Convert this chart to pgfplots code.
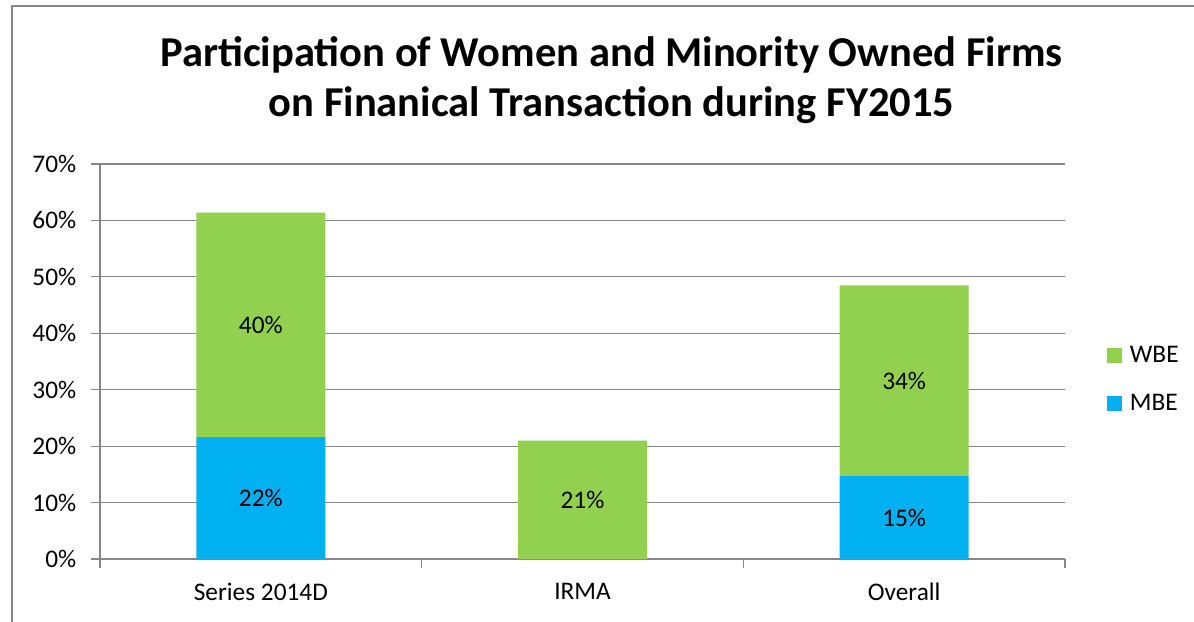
\documentclass[border=0pt]{standalone}
\usepackage{pgfplots}
\pgfplotsset{compat=1.18}
\usepackage{fontspec}
\setmainfont{Carlito}
\definecolor{wbe}{HTML}{92D050}
\definecolor{mbe}{HTML}{00B0F0}
\definecolor{gridc}{HTML}{878787}
\pgfplotstableread{
x mbe wbe
0 21.6 39.8
1 0 21.0
2 14.7 33.8
}\datatable
\pgfplotstableread{
x y lab
0 10.8 22
0 41.5 40
1 10.5 21
2 7.35 15
2 31.6 34
}\labtable
\begin{document}
\begin{tikzpicture}
\path[use as bounding box] (0,0) rectangle (895.5pt,465.75pt);
\draw[gridc, line width=1.3pt] (9pt,-5pt) -- (9pt,461.25pt) -- (900pt,461.25pt);
\node[font=\fontsize{31.9}{37.5}\selectfont\bfseries, align=center] at (458.6pt,405.75pt)
  {Participation of Women and Minority Owned Firms\\on Finanical Transaction during FY2015};
\begin{axis}[
  at={(75pt,46.5pt)}, anchor=south west,
  width=723.75pt, height=296.25pt, scale only axis,
  ybar stacked, bar width=96.75pt,
  xmin=-0.5, xmax=2.5, ymin=0, ymax=70,
  ytick={0,10,...,70},
  yticklabel={\pgfmathprintnumber{\tick}\%},
  /pgf/number format/assume math mode=true,
  xtick={0,1,2},
  xticklabels={Series 2014D, IRMA, Overall},
  xtick style={draw=none},
  extra x ticks={-0.5,0.5,1.5,2.5},
  extra x tick labels={},
  extra x tick style={xtick style={draw=gridc, line width=0.9pt}},
  tick align=outside,
  major tick length=6.75pt,
  ytick style={draw=gridc, line width=0.9pt},
  ymajorgrids,
  grid style={gridc, line width=0.9pt},
  axis lines*=left,
  axis line style={gridc, line width=0.9pt, -},
  tick label style={font=\fontsize{19}{22}\selectfont, text=black},
  yticklabel style={xshift=-7.5pt},
  xticklabel style={yshift=-8pt},
  legend style={at={(1.0435,0.454)}, anchor=west, draw=none, fill=none,
    font=\fontsize{19}{22}\selectfont, row sep=18.5pt, inner sep=0pt},
  legend cell align=left,
  legend image code/.code={\fill[#1] (0pt,-5.6pt) rectangle (11.25pt,5.6pt);\path (15pt,0pt);},
  reverse legend,
]
\addplot[fill=mbe, draw=none] table[x=x, y=mbe] {\datatable};
\addlegendentry{MBE}
\addplot[fill=wbe, draw=none] table[x=x, y=wbe] {\datatable};
\addlegendentry{WBE}
\end{axis}
\begin{axis}[
  at={(75pt,46.5pt)}, anchor=south west,
  width=723.75pt, height=296.25pt, scale only axis,
  xmin=-0.5, xmax=2.5, ymin=0, ymax=70,
  hide axis,
]
\addplot[draw=none, mark=none, point meta=explicit,
  nodes near coords={\pgfmathprintnumber[fixed,precision=0]{\pgfplotspointmeta}\%},
  every node near coord/.append style={anchor=center, font=\fontsize{19}{22}\selectfont, text=black,
    /pgf/number format/assume math mode=true}]
  table[x=x, y=y, meta=lab] {\labtable};
\end{axis}
\end{tikzpicture}
\end{document}
